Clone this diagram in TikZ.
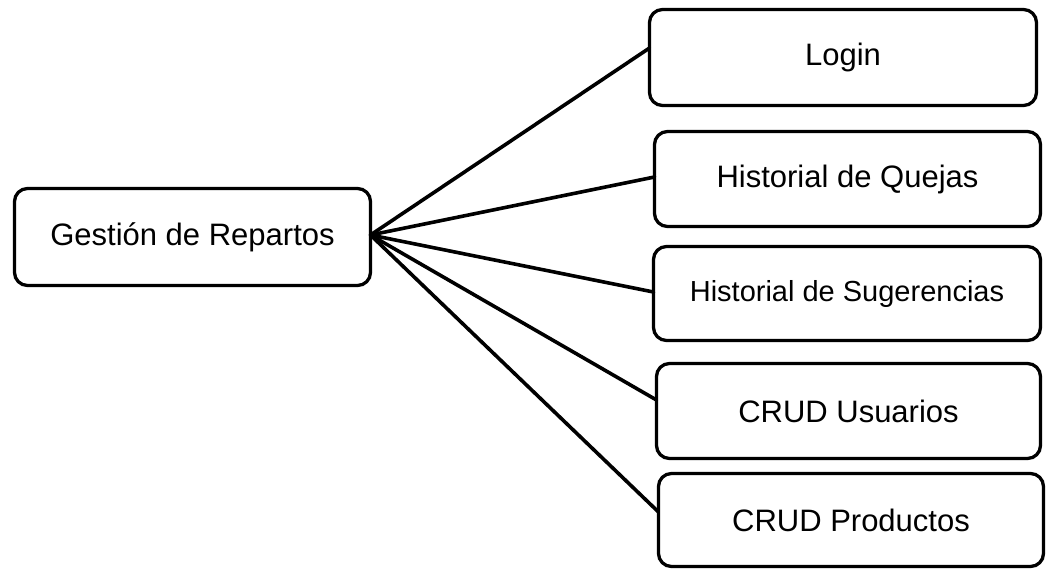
\documentclass[tikz,border=0pt]{standalone}
\usepackage{fontspec}
\setmainfont{Liberation Sans}
\usetikzlibrary{calc}
\begin{document}
\begin{tikzpicture}[x=1pt,y=-1pt,
  box/.style={draw=black, line width=3.3pt, rounded corners=13pt, fill=white,
    inner sep=0pt, outer sep=0pt, font=\fontsize{31}{36}\selectfont},
  link/.style={draw=black, line width=3.6pt, line cap=round}]
\useasboundingbox (0,0) rectangle (1053,571);
% root module
\node[box, minimum width=356pt, minimum height=97pt] (g) at (192.5,237) {Gestión de Repartos};
% sub-modules
\node[box, minimum width=387pt, minimum height=96pt] (login) at (843,57.5) {Login};
\node[box, minimum width=386pt, minimum height=95pt] (quejas) at (847.5,179) {Historial de Quejas};
\node[box, minimum width=387pt, minimum height=94pt, font=\fontsize{29}{34}\selectfont] (suger) at (847,293.5) {Historial de Sugerencias};
\node[box, minimum width=384pt, minimum height=95pt] (usuarios) at (848.5,411) {CRUD Usuarios};
\node[box, minimum width=385pt, minimum height=93pt] (productos) at (851,520) {CRUD Productos};
% connectors
\coordinate (hub) at ($(g.east)+(0,-2)$);
\draw[link] (hub) -- ($(login.west)+(0,-9.5)$);
\draw[link] (hub) -- ($(quejas.west)+(0,-2)$);
\draw[link] (hub) -- ($(suger.west)+(0,-1.5)$);
\draw[link] (hub) -- ($(usuarios.west)+(0,-11)$);
\draw[link] (hub) -- ($(productos.west)+(0,-8)$);
\end{tikzpicture}
\end{document}
